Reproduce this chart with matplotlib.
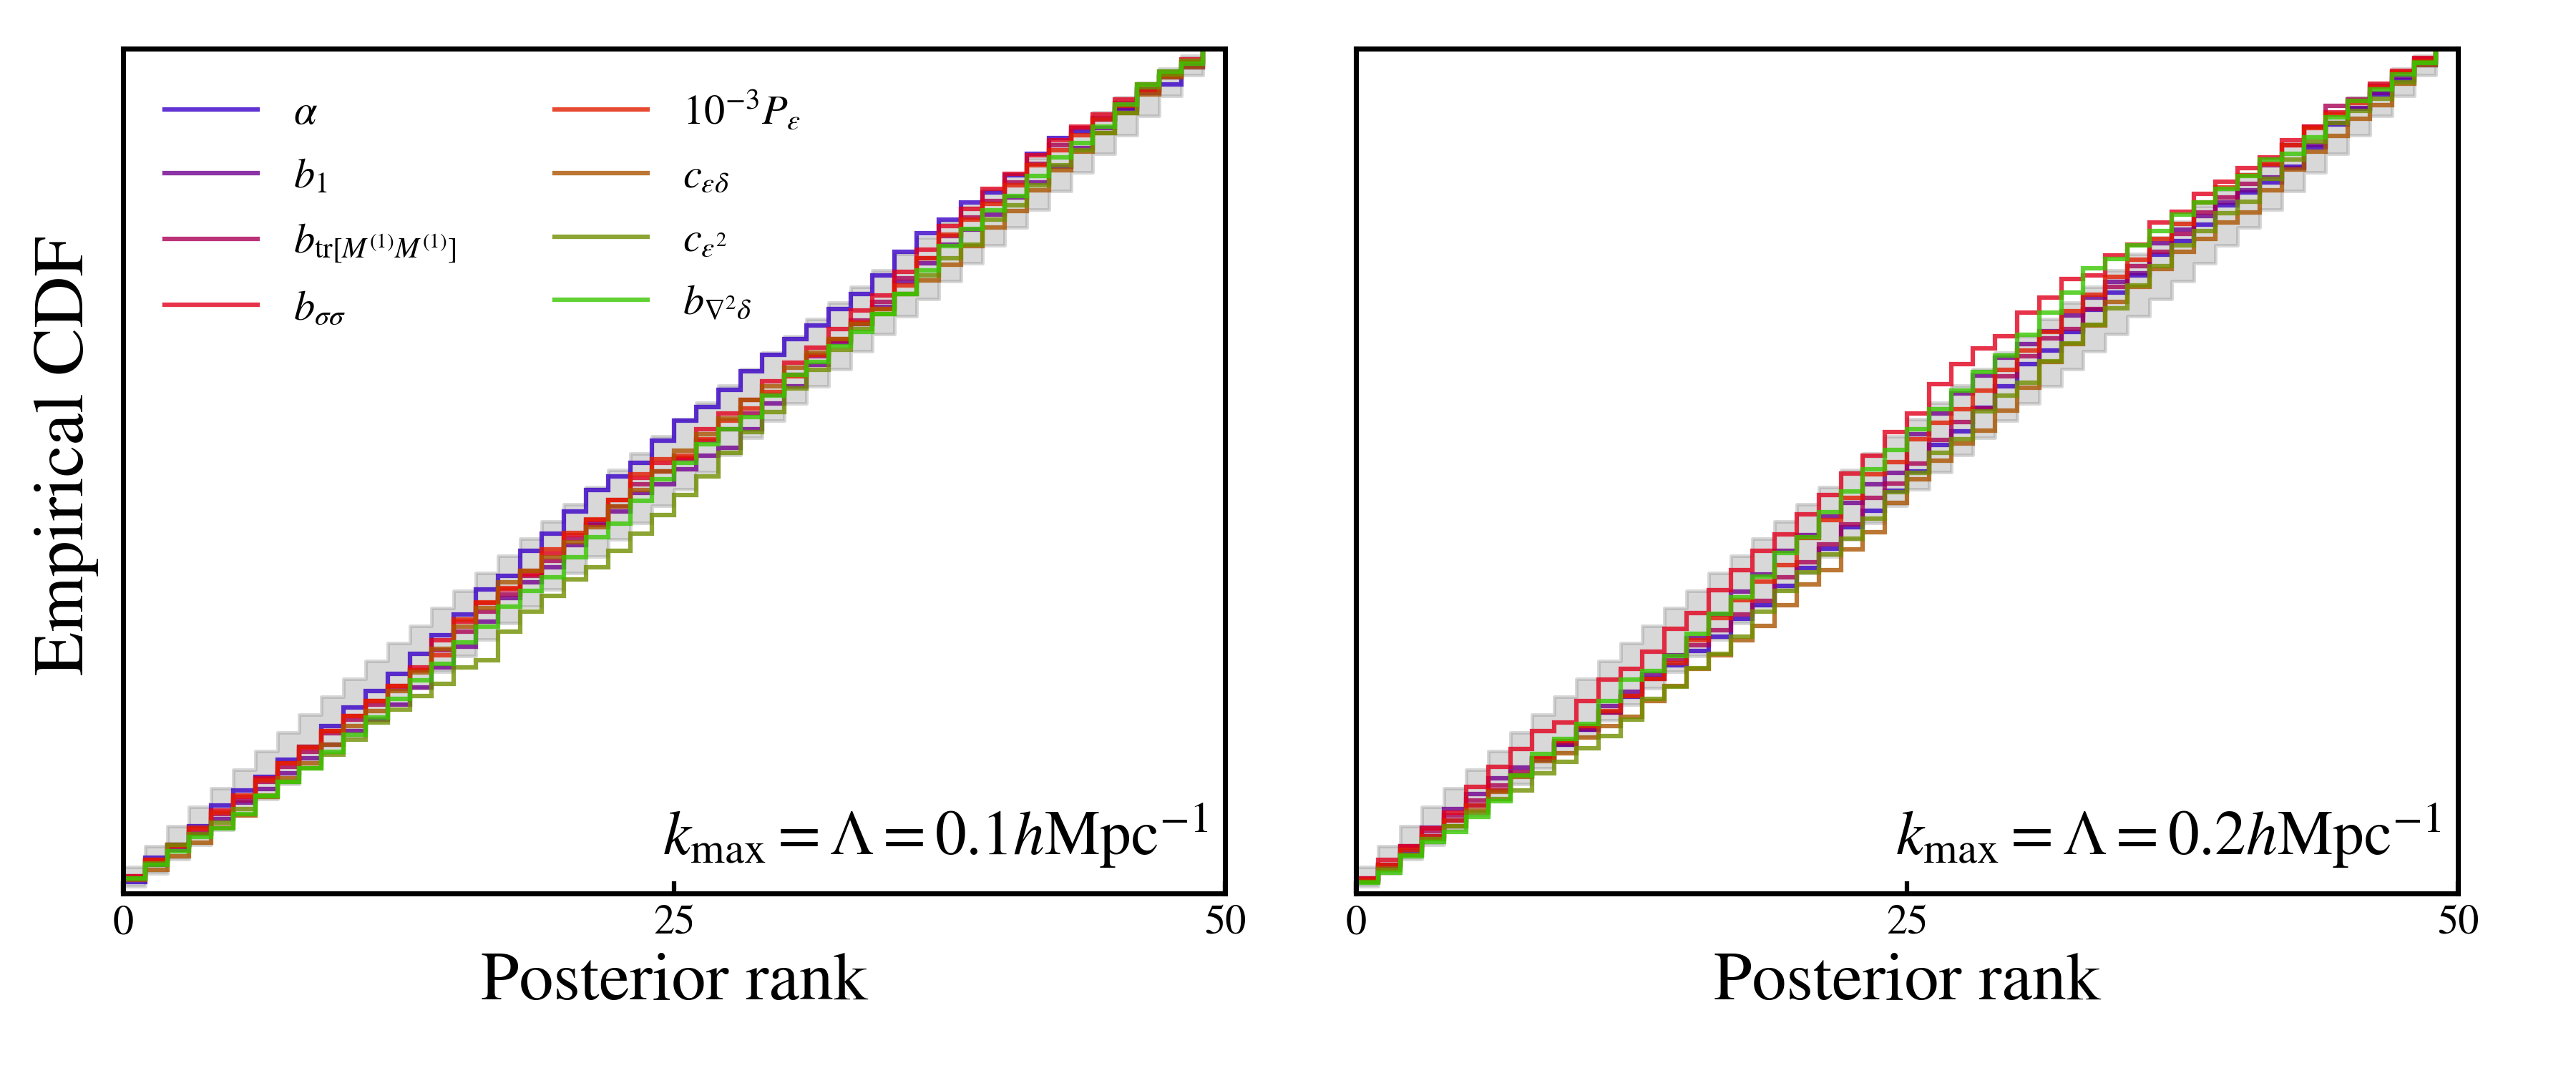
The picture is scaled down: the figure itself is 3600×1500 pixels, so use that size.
import numpy as np
import matplotlib
matplotlib.use("Agg")
import matplotlib.pyplot as plt
from matplotlib.lines import Line2D

plt.rcParams['font.family'] = ['STIXGeneral', 'DejaVu Serif']
plt.rcParams['mathtext.fontset'] = 'stix'

# ---------------- data (empirical CDF in percent, ranks 0..49) ----------------
ranks = np.arange(50)

labels = [r"$\alpha$", r"$b_1$", r"$b_{\mathrm{tr}[M^{(1)}M^{(1)}]}$", r"$b_{\sigma\sigma}$",
          r"$10^{-3}P_\varepsilon$", r"$c_{\varepsilon\delta}$", r"$c_{\varepsilon^2}$",
          r"$b_{\nabla^2\delta}$"]

band_upper = [3.16, 5.62, 7.96, 10.24, 12.48, 14.68, 16.86, 19.02, 21.17, 23.30,
              25.42, 27.52, 29.62, 31.70, 33.78, 35.85, 37.91, 39.96, 42.00, 44.04,
              46.07, 48.10, 50.11, 52.12, 54.13, 56.12, 58.11, 60.10, 62.07, 64.04,
              66.00, 67.96, 69.91, 71.85, 73.78, 75.70, 77.62, 79.52, 81.42, 83.30,
              85.17, 87.02, 88.86, 90.68, 92.48, 94.24, 95.96, 97.62, 99.16, 100.0]
band_lower = [0.84, 2.38, 4.04, 5.76, 7.52, 9.32, 11.14, 12.98, 14.83, 16.70,
              18.58, 20.48, 22.38, 24.30, 26.22, 28.15, 30.09, 32.04, 34.00, 35.96,
              37.93, 39.90, 41.89, 43.88, 45.87, 47.88, 49.89, 51.90, 53.93, 55.96,
              58.00, 60.04, 62.09, 64.15, 66.22, 68.30, 70.38, 72.48, 74.58, 76.70,
              78.83, 80.98, 83.14, 85.32, 87.52, 89.76, 92.04, 94.38, 96.84, 100.0]

# k_max = 0.1
k01_alpha = [1.4, 4.2, 5.8, 8.0, 10.4, 12.2, 13.8, 15.8, 17.4, 19.8,
             22.0, 24.0, 26.0, 28.4, 30.6, 33.0, 36.0, 37.6, 40.6, 42.6,
             45.2, 47.8, 49.4, 51.0, 53.6, 56.0, 57.6, 59.6, 61.8, 63.8,
             65.6, 67.2, 69.2, 71.0, 73.2, 76.0, 78.2, 79.8, 81.8, 83.0,
             85.0, 87.6, 89.4, 90.2, 91.6, 92.8, 95.2, 95.8, 97.8, 100.0]
k01_b1 = [1.8, 3.4, 5.2, 7.0, 8.8, 10.8, 12.4, 14.2, 16.0, 17.6,
          19.2, 20.6, 22.4, 24.4, 26.8, 29.2, 32.2, 35.0, 36.8, 38.6,
          41.2, 43.8, 45.2, 47.4, 48.4, 50.2, 51.8, 52.8, 55.0, 58.0,
          60.0, 62.6, 65.2, 67.4, 69.4, 72.4, 74.6, 76.8, 78.6, 80.4,
          82.4, 84.2, 86.0, 88.2, 90.6, 93.0, 94.8, 96.6, 98.0, 100.0]
k01_btr = [2.0, 3.8, 5.6, 7.2, 9.4, 11.0, 13.2, 15.0, 16.8, 19.0,
           20.6, 22.4, 24.2, 26.4, 28.8, 31.0, 33.4, 35.4, 37.6, 39.4,
           42.0, 43.6, 45.8, 48.4, 50.0, 51.4, 53.6, 55.0, 56.8, 59.0,
           61.4, 63.6, 65.4, 67.8, 70.0, 72.8, 75.2, 77.8, 80.0, 82.0,
           84.2, 86.4, 88.6, 90.6, 91.8, 93.6, 95.2, 96.8, 98.4, 100.0]
k01_bss = [2.0, 4.0, 5.8, 7.6, 9.8, 11.4, 13.6, 15.4, 17.2, 19.2,
           21.0, 22.8, 24.6, 26.8, 30.0, 32.2, 34.4, 36.0, 37.8, 40.2,
           42.4, 44.2, 46.6, 49.2, 51.0, 51.6, 55.0, 56.8, 58.4, 60.6,
           62.8, 64.6, 66.8, 69.0, 70.8, 73.6, 76.2, 79.0, 81.0, 83.4,
           85.2, 87.4, 89.2, 90.8, 92.2, 94.0, 95.8, 97.3, 98.7, 100.0]
k01_Peps = [1.8, 4.0, 5.6, 7.8, 9.6, 11.6, 13.4, 15.4, 17.4, 19.2,
            21.0, 22.8, 24.6, 26.4, 28.2, 32.4, 34.5, 36.2, 38.2, 40.7,
            42.7, 44.3, 46.6, 49.6, 51.4, 51.8, 53.8, 56.0, 57.4, 59.4,
            61.2, 63.8, 65.6, 67.6, 69.2, 72.0, 75.2, 78.0, 79.8, 81.6,
            83.8, 86.2, 88.0, 89.8, 91.6, 93.2, 95.0, 96.8, 98.4, 100.0]
k01_ced = [1.6, 2.8, 4.4, 6.0, 7.8, 9.2, 11.4, 13.6, 15.4, 17.6,
           19.8, 21.6, 24.0, 26.2, 29.0, 31.6, 33.8, 36.8, 38.2, 39.8,
           41.6, 43.4, 45.8, 47.8, 50.0, 52.4, 54.4, 56.2, 58.4, 60.0,
           62.2, 64.0, 65.6, 67.4, 69.2, 71.0, 72.6, 74.4, 76.6, 78.8,
           80.8, 83.2, 85.6, 87.8, 90.0, 92.4, 94.6, 96.6, 97.8, 100.0]
k01_ce2 = [1.8, 3.6, 5.8, 7.0, 8.4, 10.0, 11.6, 13.2, 14.8, 16.4,
           18.2, 20.2, 21.8, 23.4, 24.8, 26.8, 27.6, 31.0, 33.4, 35.2,
           37.2, 38.6, 40.6, 42.6, 44.8, 47.2, 49.4, 52.2, 54.6, 57.0,
           59.8, 62.0, 64.4, 66.8, 68.6, 71.0, 73.2, 75.2, 76.8, 79.8,
           81.5, 83.8, 86.2, 88.0, 90.0, 92.4, 95.4, 97.0, 98.6, 100.0]
k01_bn2d = [1.8, 3.4, 5.0, 6.7, 7.7, 9.4, 11.5, 13.2, 14.8, 16.8,
            18.8, 20.8, 23.0, 25.2, 27.2, 29.7, 31.6, 34.0, 35.8, 37.4,
            39.8, 42.2, 43.8, 46.5, 49.0, 51.0, 53.2, 55.0, 56.4, 58.9,
            61.4, 62.9, 64.8, 66.5, 68.6, 71.0, 73.8, 76.6, 78.7, 80.9,
            82.6, 84.9, 87.1, 88.8, 90.8, 93.4, 95.8, 97.3, 98.2, 100.0]

# k_max = 0.2
k02_alpha = [1.6, 3.2, 5.0, 6.8, 8.6, 10.4, 12.2, 14.0, 15.8, 17.6,
             19.4, 21.4, 23.3, 25.5, 27.0, 28.7, 30.4, 32.5, 34.1, 36.4,
             38.5, 40.8, 43.4, 45.3, 47.7, 50.0, 53.1, 54.7, 57.5, 60.0,
             62.7, 64.3, 66.5, 69.1, 71.1, 73.2, 75.6, 77.2, 79.2, 81.5,
             83.0, 84.2, 86.0, 88.3, 91.0, 92.9, 94.6, 96.3, 98.1, 100.0]
k02_b1 = [1.6, 3.4, 5.6, 7.8, 10.0, 11.8, 13.6, 14.9, 16.0, 17.6,
          19.4, 22.2, 23.9, 26.0, 28.2, 30.2, 33.0, 35.7, 37.8, 40.6,
          42.4, 44.6, 46.2, 48.4, 49.8, 54.4, 56.8, 59.2, 61.3, 63.4,
          65.0, 66.6, 68.4, 70.5, 72.4, 73.4, 77.0, 78.6, 80.2, 81.8,
          83.2, 84.8, 85.9, 88.6, 91.2, 93.0, 94.8, 96.6, 98.4, 100.0]
k02_btr = [1.8, 3.4, 5.4, 7.4, 9.2, 11.0, 12.8, 14.4, 16.0, 17.8,
           19.6, 21.4, 23.4, 25.4, 27.6, 29.4, 31.2, 33.0, 34.6, 37.4,
           39.2, 41.3, 43.7, 46.8, 48.5, 50.9, 53.7, 55.8, 57.4, 61.2,
           63.6, 65.7, 66.8, 69.2, 71.8, 74.3, 76.0, 78.1, 80.6, 82.4,
           84.0, 86.2, 88.6, 90.8, 93.2, 94.0, 95.6, 97.2, 98.8, 100.0]
k02_bss = [1.8, 4.0, 5.6, 7.7, 9.6, 12.6, 15.0, 17.1, 19.2, 20.2,
           22.8, 25.3, 26.6, 28.6, 31.3, 33.2, 35.9, 38.3, 40.6, 42.5,
           44.9, 47.2, 49.7, 51.8, 54.6, 56.8, 60.3, 62.7, 64.5, 66.0,
           68.8, 70.5, 72.7, 73.2, 75.5, 76.8, 79.4, 80.7, 82.8, 84.3,
           85.9, 87.1, 89.2, 90.8, 92.5, 93.8, 95.9, 97.4, 98.9, 100.0]
k02_Peps = [1.6, 3.4, 5.2, 6.8, 8.6, 10.4, 12.2, 14.0, 16.0, 18.0,
            19.8, 21.6, 23.4, 25.4, 27.3, 30.0, 32.6, 34.7, 36.9, 38.9,
            42.1, 44.2, 46.8, 49.6, 51.1, 53.8, 55.7, 57.3, 59.5, 62.0,
            64.3, 66.5, 68.9, 70.9, 73.0, 75.0, 77.5, 79.3, 81.8, 83.6,
            85.0, 86.4, 88.6, 90.6, 92.2, 93.6, 95.4, 97.2, 98.6, 100.0]
k02_ced = [1.4, 3.0, 4.6, 6.4, 8.0, 9.8, 12.0, 13.8, 15.7, 16.6,
           18.5, 19.8, 20.9, 22.8, 24.6, 26.6, 28.2, 30.0, 31.7, 34.1,
           36.6, 38.3, 40.7, 42.8, 46.2, 49.0, 51.2, 53.3, 54.8, 57.2,
           59.9, 62.9, 65.0, 67.2, 70.0, 71.8, 73.9, 76.0, 77.5, 79.4,
           80.6, 83.2, 85.7, 87.8, 89.7, 91.7, 93.3, 95.9, 98.1, 100.0]
k02_ce2 = [1.4, 2.8, 4.6, 6.4, 8.0, 9.6, 11.2, 12.2, 14.2, 15.6,
           17.2, 18.6, 20.6, 23.0, 24.5, 26.7, 28.4, 30.4, 33.4, 35.8,
           38.0, 40.1, 42.0, 44.4, 47.5, 49.8, 52.2, 53.8, 57.1, 58.9,
           60.5, 63.0, 65.1, 67.3, 69.3, 72.0, 74.3, 76.7, 78.4, 80.5,
           81.9, 84.6, 86.9, 89.0, 91.2, 92.6, 94.1, 96.0, 98.4, 100.0]
k02_bn2d = [1.3, 2.5, 4.4, 6.1, 7.3, 9.1, 10.9, 14.0, 16.5, 18.3,
            20.1, 22.8, 25.3, 26.3, 28.1, 30.7, 33.1, 35.1, 37.5, 40.3,
            42.2, 45.1, 47.6, 50.2, 52.5, 55.0, 57.3, 59.5, 61.7, 63.7,
            66.1, 68.8, 71.1, 74.0, 75.1, 76.7, 78.4, 80.4, 81.8, 83.4,
            84.9, 86.9, 87.6, 89.5, 91.9, 93.8, 95.2, 97.0, 98.3, 100.0]

series_k01 = [k01_alpha, k01_b1, k01_btr, k01_bss, k01_Peps, k01_ced, k01_ce2, k01_bn2d]
series_k02 = [k02_alpha, k02_b1, k02_btr, k02_bss, k02_Peps, k02_ced, k02_ce2, k02_bn2d]
panel_text = [r"$k_{\rm max}=\Lambda=0.1h{\rm Mpc}^{-1}$",
              r"$k_{\rm max}=\Lambda=0.2h{\rm Mpc}^{-1}$"]
xticks = [0, 25, 50]

# ---------------- plotting ----------------
cmap = plt.get_cmap('brg')
colors = [cmap(t) for t in np.linspace(0, 1, len(labels) + 2)[1:-1]]

fig = plt.figure(figsize=(12, 5), dpi=300)
ax1 = fig.add_axes([0.0478, 0.1673, 0.4278, 0.7873])
ax2 = fig.add_axes([0.5264, 0.1673, 0.4278, 0.7873])

edges = np.arange(len(ranks) + 1)

for ax, series, txt in zip([ax1, ax2], [series_k01, series_k02], panel_text):
    lo = np.append(np.array(band_lower) / 100, band_lower[-1] / 100)
    hi = np.append(np.array(band_upper) / 100, band_upper[-1] / 100)
    ax.fill_between(edges, lo, hi, step='post', facecolor='gray', alpha=0.3,
                    edgecolor='gray', linewidth=1.2, zorder=1)
    for vals, c, lab in zip(series, colors, labels):
        v = np.array(vals) / 100
        ax.stairs(v, edges, baseline=None, color=c, alpha=0.8, lw=1.5,
                  label=lab, zorder=2)
    ax.set_xlim(0, 50)
    ax.set_ylim(0, 1)
    ax.set_xticks(xticks)
    ax.set_yticks([])
    ax.tick_params(axis='x', direction='in', length=4, width=1.5, labelsize=14, pad=4)
    for s in ax.spines.values():
        s.set_linewidth(1.7)
    ax.set_xlabel("Posterior rank", fontsize=23, labelpad=3)
    ax.text(0.985, 0.028, txt, transform=ax.transAxes, ha='right', va='bottom',
            fontsize=21)

ax1.set_ylabel("Empirical CDF", fontsize=24)
ax1.yaxis.set_label_coords(-0.022, 0.518)
lh = [Line2D([0], [0], color=c, alpha=0.8, lw=1.5) for c in colors]
ax1.legend(lh, labels, loc='upper left', ncol=2, frameon=False, fontsize=14,
           handlelength=2.23, handletextpad=0.85, columnspacing=2.35,
           labelspacing=0.6, borderaxespad=0.6)

fig.savefig("out.png", dpi=300)
